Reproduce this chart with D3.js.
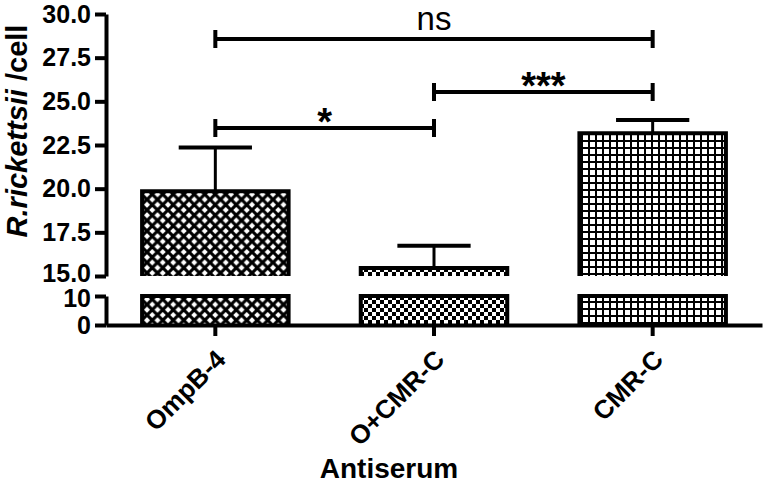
<!DOCTYPE html>
<html>
<head>
<meta charset="utf-8">
<script src="https://cdn.jsdelivr.net/npm/d3@7"></script>
<style>
  body { margin: 0; background: #fff; }
  text { font-family: "Liberation Sans", Arial, sans-serif; }
</style>
</head>
<body>
<div id="chart"></div>
<script>
// data
var categories = ["OmpB-4", "O+CMR-C", "CMR-C"];
var means = [19.85, 15.46, 23.17];
var errUp = [2.50, 1.27, 0.76];
var patterns = ["crosshatch", "checker", "grid"];
var topTicks = [15, 17.5, 20, 22.5, 25, 27.5, 30];
var bottomTicks = [0, 10];
var compFrom = [0, 1, 0];
var compTo = [1, 2, 2];
var compLevel = [23.47, 25.53, 28.57];
var compLabel = ["*", "***", "ns"];

var W = 766, H = 483;
var svg = d3.select("#chart").append("svg")
  .attr("width", W).attr("height", H);

// scales - broken y axis
var x = d3.scaleBand().domain(categories).range([106, 762])
  .paddingInner(0.33).paddingOuter(0.165);
var yTop = d3.scaleLinear().domain([15, 30]).range([276, 14]);
var yBot = d3.scaleLinear().domain([0, 10]).range([325, 296]);

// fill patterns
var defs = svg.append("defs");
var p1 = defs.append("pattern").attr("id", "crosshatch")
  .attr("patternUnits", "userSpaceOnUse").attr("width", 10.5).attr("height", 10.5);
p1.append("path").attr("d", "M-1,-1L11.5,11.5M11.5,-1L-1,11.5")
  .attr("stroke", "#000").attr("stroke-width", 3.2);
var p2 = defs.append("pattern").attr("id", "checker")
  .attr("patternUnits", "userSpaceOnUse").attr("width", 8).attr("height", 8);
p2.append("rect").attr("width", 4).attr("height", 4).attr("fill", "#000");
p2.append("rect").attr("x", 4).attr("y", 4).attr("width", 4).attr("height", 4).attr("fill", "#000");
var p3 = defs.append("pattern").attr("id", "grid")
  .attr("patternUnits", "userSpaceOnUse").attr("width", 7).attr("height", 7);
p3.append("rect").attr("width", 2).attr("height", 7).attr("fill", "#000");
p3.append("rect").attr("width", 7).attr("height", 2).attr("fill", "#000");

var bw = x.bandwidth();
var rows = categories.map(function(c, i) {
  return {cat: c, mean: means[i], err: errUp[i], pat: patterns[i]};
});

// bars, two segments each
var bars = svg.append("g").selectAll("g").data(rows).enter().append("g");
// upper segment
bars.append("rect")
  .attr("x", function(d) { return x(d.cat); })
  .attr("y", function(d) { return yTop(d.mean); })
  .attr("width", bw)
  .attr("height", function(d) { return yTop(15) - yTop(d.mean); })
  .attr("fill", function(d) { return "url(#" + d.pat + ")"; });
bars.append("path")
  .attr("d", function(d) {
    var x0 = x(d.cat), x1 = x0 + bw;
    return "M" + x0 + "," + yTop(15) + "V" + yTop(d.mean) + "H" + x1 + "V" + yTop(15);
  })
  .attr("fill", "none").attr("stroke", "#000").attr("stroke-width", 4);
// lower segment
bars.append("rect")
  .attr("x", function(d) { return x(d.cat); })
  .attr("y", yBot(10))
  .attr("width", bw)
  .attr("height", yBot(0) - yBot(10))
  .attr("fill", function(d) { return "url(#" + d.pat + ")"; });
bars.append("path")
  .attr("d", function(d) {
    var x0 = x(d.cat), x1 = x0 + bw;
    return "M" + x0 + "," + yBot(0) + "V" + yBot(10) + "H" + x1 + "V" + yBot(0);
  })
  .attr("fill", "none").attr("stroke", "#000").attr("stroke-width", 4);

// error bars
bars.append("line")
  .attr("x1", function(d) { return x(d.cat) + bw / 2; })
  .attr("x2", function(d) { return x(d.cat) + bw / 2; })
  .attr("y1", function(d) { return yTop(d.mean); })
  .attr("y2", function(d) { return yTop(d.mean + d.err); })
  .attr("stroke", "#000").attr("stroke-width", 3);
bars.append("line")
  .attr("x1", function(d) { return x(d.cat) + bw / 2 - bw * 0.25; })
  .attr("x2", function(d) { return x(d.cat) + bw / 2 + bw * 0.25; })
  .attr("y1", function(d) { return yTop(d.mean + d.err); })
  .attr("y2", function(d) { return yTop(d.mean + d.err); })
  .attr("stroke", "#000").attr("stroke-width", 4);

// axes
function styleAxis(g) {
  g.select(".domain").attr("stroke-width", 4);
  g.selectAll(".tick line").attr("stroke-width", 4);
  g.selectAll(".tick text")
    .style("font-size", "25px").style("font-weight", "bold").attr("fill", "#000");
}
var yAxTop = svg.append("g")
  .attr("transform", "translate(106,0)")
  .call(d3.axisLeft(yTop).tickValues(topTicks).tickFormat(d3.format(".1f"))
    .tickSize(11).tickSizeOuter(0).tickPadding(4))
  .call(styleAxis);
// keep 15.0 clear of the 10 below the break
yAxTop.selectAll(".tick text")
  .attr("dy", function(d) { return d === 15 ? "0.2em" : "0.32em"; });
var yAxBot = svg.append("g")
  .attr("transform", "translate(106,0)")
  .call(d3.axisLeft(yBot).tickValues(bottomTicks).tickFormat(d3.format("d"))
    .tickSize(11).tickSizeOuter(0).tickPadding(4))
  .call(styleAxis);
yAxBot.selectAll(".tick text")
  .attr("dy", function(d) { return d === 10 ? "0.42em" : "0.32em"; });
var xAxis = svg.append("g")
  .attr("transform", "translate(0,325)")
  .call(d3.axisBottom(x).tickSize(11).tickSizeOuter(0))
  .call(styleAxis);
xAxis.selectAll(".tick text")
  .style("font-size", "26px")
  .attr("text-anchor", "end")
  .attr("y", 0).attr("dy", 0)
  .attr("transform", "translate(12,36)rotate(-45)");

// significance brackets
var comps = compLabel.map(function(l, i) {
  return {a: categories[compFrom[i]], b: categories[compTo[i]], v: compLevel[i], label: l};
});
var br = svg.append("g").selectAll("g").data(comps).enter().append("g");
br.append("path")
  .attr("d", function(d) {
    var xa = x(d.a) + bw / 2, xb = x(d.b) + bw / 2, yy = yTop(d.v);
    return "M" + xa + "," + yy + "H" + xb +
      "M" + xa + "," + (yy - 9) + "V" + (yy + 9) +
      "M" + xb + "," + (yy - 9) + "V" + (yy + 9);
  })
  .attr("fill", "none").attr("stroke", "#000").attr("stroke-width", 4);
br.append("text")
  .attr("x", function(d) { return (x(d.a) + x(d.b)) / 2 + bw / 2; })
  .attr("y", function(d) { return yTop(d.v) + (d.label === "ns" ? -9 : 7); })
  .attr("text-anchor", "middle")
  .style("font-size", function(d) { return d.label === "ns" ? "33px" : "38px"; })
  .style("font-weight", function(d) { return d.label === "ns" ? "normal" : "bold"; })
  .text(function(d) { return d.label; });

// axis titles
svg.append("text")
  .attr("x", 389).attr("y", 478)
  .attr("text-anchor", "middle")
  .style("font-size", "28px").style("font-weight", "bold")
  .text("Antiserum");
var yl = svg.append("text")
  .attr("transform", "translate(27,131)rotate(-90)")
  .attr("text-anchor", "middle")
  .style("font-size", "29px").style("font-weight", "bold");
yl.append("tspan").style("font-style", "italic").text("R.rickettsii");
yl.append("tspan").text(" /cell");
</script>
</body>
</html>
